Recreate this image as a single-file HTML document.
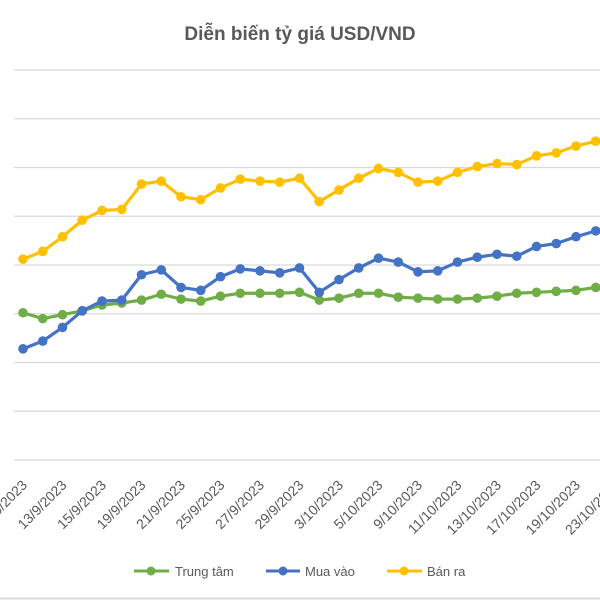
<!DOCTYPE html>
<html><head><meta charset="utf-8"><style>
html,body{margin:0;padding:0;background:#fff;}
svg{display:block;font-family:"Liberation Sans","DejaVu Sans",sans-serif;}
</style></head><body>
<svg id="chart" width="600" height="600" viewBox="0 0 600 600">
  <rect x="0" y="0" width="600" height="600" fill="#fff"/>
  <text x="300" y="40" text-anchor="middle" font-size="19" font-weight="bold" fill="#595959">Diễn biến tỷ giá USD/VND</text>
  <g id="grid"></g>
  <g id="xlabels"></g>
  <g id="series"></g>
  <g>
    <g>
      <line x1="134" y1="571" x2="169" y2="571" stroke="#70ad47" stroke-width="3"/>
      <circle cx="151" cy="571" r="4.5" fill="#70ad47"/>
      <text x="175" y="576" font-size="13" fill="#595959">Trung tâm</text>
    </g>
    <g>
      <line x1="266" y1="571" x2="300" y2="571" stroke="#4472c4" stroke-width="3"/>
      <circle cx="283" cy="571" r="4.5" fill="#4472c4"/>
      <text x="305" y="576" font-size="13" fill="#595959">Mua vào</text>
    </g>
    <g>
      <line x1="387" y1="571" x2="422" y2="571" stroke="#ffc000" stroke-width="3"/>
      <circle cx="404" cy="571" r="4.5" fill="#ffc000"/>
      <text x="427" y="576" font-size="13" fill="#595959">Bán ra</text>
    </g>
  </g>
  <line x1="0" y1="598.5" x2="600" y2="598.5" stroke="#d9d9d9" stroke-width="2"/>
</svg>
<script>
const labels = ["11/9/2023","13/9/2023","15/9/2023","19/9/2023","21/9/2023","25/9/2023","27/9/2023","29/9/2023","3/10/2023","5/10/2023","9/10/2023","11/10/2023","13/10/2023","17/10/2023","19/10/2023","23/10/2023"];
const gridTicks = [24000,24050,24100,24150,24200,24250,24300,24350,24400];
const trungTam = [24151,24145,24149,24153,24159,24161,24164,24170,24165,24163,24168,24171,24171,24171,24172,24164,24166,24171,24171,24167,24166,24165,24165,24166,24168,24171,24172,24173,24174,24177];
const muaVao = [24114,24122,24136,24153,24163,24164,24190,24195,24177,24174,24188,24196,24194,24192,24197,24172,24185,24197,24207,24203,24193,24194,24203,24208,24211,24209,24219,24222,24229,24235];
const banRa = [24206,24214,24229,24246,24256,24257,24283,24286,24270,24267,24279,24288,24286,24285,24289,24265,24277,24289,24299,24295,24285,24286,24295,24301,24304,24303,24312,24315,24322,24327];

const NS = "http://www.w3.org/2000/svg";
const yScale = v => 460 - (v - 24000) * 0.975;
const xScale = i => 23 + i * 19.75;
const labelX = i => 28 + i * 39.5;

const grid = document.getElementById('grid');
gridTicks.forEach(t => {
  const l = document.createElementNS(NS, 'line');
  l.setAttribute('x1', 14); l.setAttribute('x2', 600);
  l.setAttribute('y1', yScale(t)); l.setAttribute('y2', yScale(t));
  l.setAttribute('stroke', '#d9d9d9'); l.setAttribute('stroke-width', '1.3');
  
  
  grid.appendChild(l);
});

const xl = document.getElementById('xlabels');
labels.forEach((s, i) => {
  const x = labelX(i), y = 486;
  const t = document.createElementNS(NS, 'text');
  t.setAttribute('x', x); t.setAttribute('y', y);
  t.setAttribute('text-anchor', 'end');
  t.setAttribute('font-size', '14');
  t.setAttribute('fill', '#595959');
  t.setAttribute('transform', `rotate(-45 ${x} ${y})`);
  t.textContent = s;
  
  
  xl.appendChild(t);
});

const sg = document.getElementById('series');
function drawSeries(data, color, name) {
  const g = document.createElementNS(NS, 'g');
  
  
  const p = document.createElementNS(NS, 'polyline');
  p.setAttribute('points', data.map((v, i) => xScale(i) + ',' + yScale(v)).join(' '));
  p.setAttribute('fill', 'none'); p.setAttribute('stroke', color);
  p.setAttribute('stroke-width', '3.2'); p.setAttribute('stroke-linejoin', 'round');
  
  
  g.appendChild(p);
  data.forEach((v, i) => {
    const c = document.createElementNS(NS, 'circle');
    c.setAttribute('cx', xScale(i)); c.setAttribute('cy', yScale(v));
    c.setAttribute('r', '4.8'); c.setAttribute('fill', color);
    
    
    g.appendChild(c);
  });
  sg.appendChild(g);
}
drawSeries(trungTam, '#70ad47', 'series-trung-tam');
drawSeries(muaVao, '#4472c4', 'series-mua-vao');
drawSeries(banRa, '#ffc000', 'series-ban-ra');
</script>
</body></html>
